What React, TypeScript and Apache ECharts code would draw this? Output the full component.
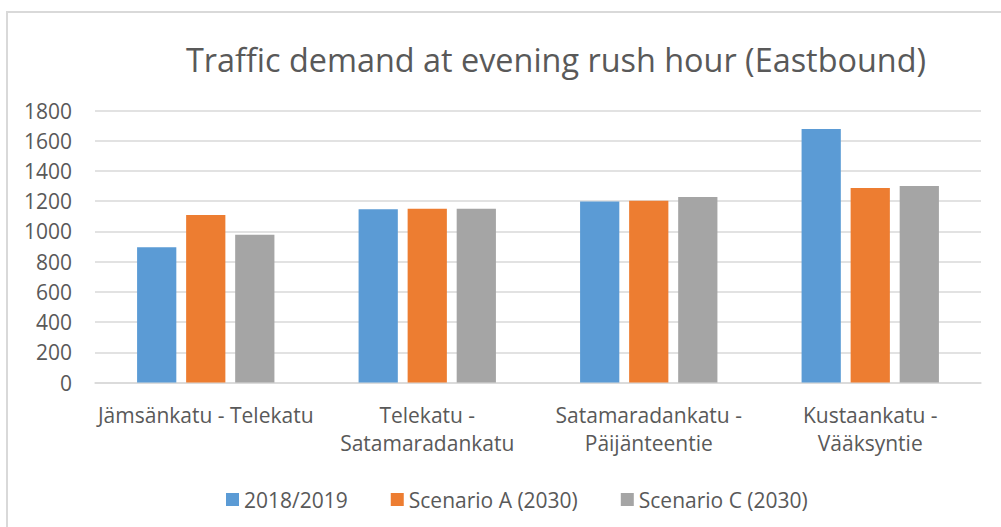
import React, { useEffect, useRef } from "react";
import * as echarts from "echarts";

const categories = [
  "Jämsänkatu - Telekatu",
  "Telekatu -\nSatamaradankatu",
  "Satamaradankatu -\nPäijänteentie",
  "Kustaankatu -\nVääksyntie",
];
const seriesNames = ["2018/2019", "Scenario A (2030)", "Scenario C (2030)"];
const base2018 = [895, 1146, 1197, 1678];
const scenarioA = [1108, 1150, 1203, 1287];
const scenarioC = [978, 1150, 1228, 1300];
const colors = ["#5b9bd5", "#ed7d31", "#a5a5a5"];

const FONT = "'Open Sans', 'Noto Sans', sans-serif";

export default function App() {
  const ref = useRef<HTMLDivElement>(null);
  useEffect(() => {
    if (!ref.current) return;
    const chart = echarts.init(ref.current, null, { renderer: "svg" });
    const values = [base2018, scenarioA, scenarioC];
    chart.setOption({
      animation: false,
      textStyle: { fontFamily: FONT },
      title: {
        text: "Traffic demand at evening rush hour (Eastbound)",
        left: 551,
        textAlign: "center",
        top: 38,
        textStyle: { color: "#595959", fontSize: 32.4, fontWeight: "normal", fontFamily: FONT },
      },
      graphic: [
        {
          type: "rect",
          shape: { x: 7, y: 12, width: 1010, height: 530 },
          style: { fill: "none", stroke: "#d9d9d9", lineWidth: 2 },
          silent: true,
        },
      ],
      legend: {
        data: seriesNames,
        top: 484,
        left: 221,
        itemWidth: 13,
        itemHeight: 13,
        itemGap: 43,
        icon: "rect",
        textStyle: { color: "#595959", fontSize: 21, fontFamily: FONT },
      },
      grid: { left: 95, right: 20, top: 110.5, bottom: 144.5 },
      xAxis: {
        type: "category",
        data: categories,
        axisLine: { lineStyle: { color: "#d9d9d9", width: 1.5 } },
        axisTick: { show: false },
        axisLabel: {
          color: "#595959",
          fontSize: 21,
          lineHeight: 28,
          margin: 18,
          interval: 0,
          fontFamily: FONT,
        },
      },
      yAxis: {
        type: "value",
        min: 0,
        max: 1800,
        interval: 200,
        axisLine: { show: false },
        axisTick: { show: false },
        splitLine: { lineStyle: { color: "#d9d9d9", width: 1.5 } },
        axisLabel: {
          color: "#595959",
          fontSize: 21,
          margin: 23,
          fontFamily: FONT,
          formatter: (v: number) => String(v),
        },
      },
      series: seriesNames.map((name, i) => ({
        name,
        type: "bar",
        data: values[i],
        barGap: "25%",
        barCategoryGap: "38%",
        itemStyle: { color: colors[i] },
      })),
    });
    return () => chart.dispose();
  }, []);
  return (
    <div
      ref={ref}
      style={{ position: "fixed", left: 0, top: 0, width: 1001, height: 527, background: "#fff" }}
    />
  );
}
